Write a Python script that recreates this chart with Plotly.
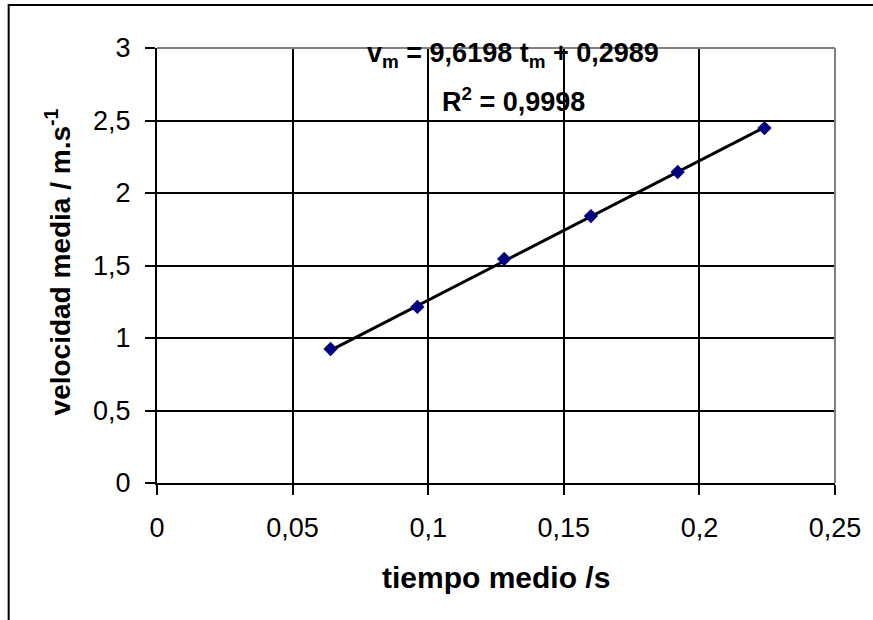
import plotly.graph_objects as go

# Data
tiempo = [0.064, 0.096, 0.128, 0.160, 0.192, 0.224]
velocidad = [0.924, 1.214, 1.545, 1.841, 2.145, 2.448]
slope = 9.6198
intercept = 0.2989
x_ticks = [0, 0.05, 0.1, 0.15, 0.2, 0.25]
x_labels = ["0", "0,05", "0,1", "0,15", "0,2", "0,25"]
y_ticks = [0, 0.5, 1, 1.5, 2, 2.5, 3]
y_labels = ["0", "0,5", "1", "1,5", "2", "2,5", "3"]

trend_x = [tiempo[0], tiempo[-1]]
trend_y = [slope * x + intercept for x in trend_x]

W, H = 873, 620
L, R, T, B = 157, 35, 48, 137
pw, ph = W - L - R, H - T - B

fig = go.Figure()
fig.add_trace(go.Scatter(x=trend_x, y=trend_y, mode="lines",
                         line=dict(color="black", width=3),
                         showlegend=False))
fig.add_trace(go.Scatter(x=tiempo, y=velocidad, mode="markers",
                         marker=dict(symbol="diamond", size=11, color="#000080"),
                         showlegend=False, cliponaxis=False))

font_family = "Liberation Sans, Arial, sans-serif"

fig.update_layout(
    width=W, height=H,
    margin=dict(l=L, r=R, t=T, b=B),
    paper_bgcolor="white", plot_bgcolor="white",
    font=dict(family=font_family, color="black"),
    xaxis=dict(range=[0, 0.25], tickvals=x_ticks, ticktext=x_labels,
               showgrid=True, gridcolor="black", gridwidth=1.8,
               zeroline=False, showline=True, linecolor="black", linewidth=2,
               ticks="outside", ticklen=10, tickcolor="black", tickwidth=1.8,
               ticklabelstandoff=10,
               tickfont=dict(size=27, family=font_family)),
    yaxis=dict(range=[0, 3], tickvals=y_ticks, ticktext=y_labels,
               showgrid=True, gridcolor="black", gridwidth=1.8,
               zeroline=False, showline=True, linecolor="black", linewidth=2,
               ticks="outside", ticklen=10, tickcolor="black", tickwidth=1.8,
               ticklabelstandoff=9,
               tickfont=dict(size=27, family=font_family)),
)

# gray top/right frame
fig.add_shape(type="line", xref="paper", yref="paper", x0=0, x1=1, y0=1, y1=1,
              line=dict(color="#808080", width=2))
fig.add_shape(type="line", xref="paper", yref="paper", x0=1, x1=1, y0=0, y1=1,
              line=dict(color="#808080", width=2))

# outer chart border (top & left visible)
bx0 = (8 - L) / pw
bx1 = (W + 10 - L) / pw
by1 = (H - B - 5) / ph
by0 = (H - B - (H + 10)) / ph
fig.add_shape(type="rect", xref="paper", yref="paper", x0=bx0, x1=bx1, y0=by0, y1=by1,
              line=dict(color="black", width=2), layer="above")

# axis titles
fig.add_annotation(x=(497 - L) / pw, y=(H - B - 577) / ph, xref="paper", yref="paper",
                   showarrow=False, text="<b>tiempo medio /s</b>",
                   font=dict(size=30, family=font_family), xanchor="center", yanchor="middle")
fig.add_annotation(x=(58 - L) / pw, y=(H - B - 262) / ph, xref="paper", yref="paper",
                   showarrow=False, text="<b>velocidad media / m.s<sup>-1</sup></b>", textangle=-90,
                   font=dict(size=28, family=font_family), xanchor="center", yanchor="middle")

# regression equation
eq_x = 0.1314
fig.add_annotation(x=eq_x, y=2.95, xref="x", yref="y", showarrow=False,
                   text="<b>v<sub>m</sub> = 9,6198 t<sub>m</sub> + 0,2989</b>",
                   font=dict(size=27, family=font_family), yanchor="middle")
fig.add_annotation(x=eq_x, y=2.64, xref="x", yref="y", showarrow=False,
                   text="<b>R<sup>2</sup> = 0,9998</b>",
                   font=dict(size=27, family=font_family), yanchor="middle")

fig.write_html("out.html", config={"displayModeBar": False},
               post_script="document.body.style.margin='0';")
